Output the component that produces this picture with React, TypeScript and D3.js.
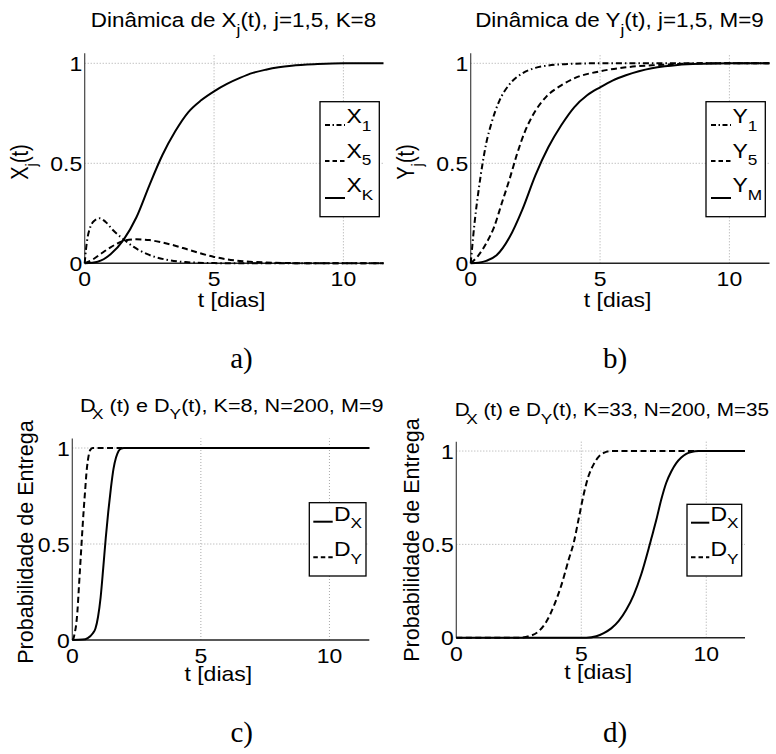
import React from 'react';
import * as d3 from 'd3';

type Pt = [number, number];

// shared axis definitions
const T_END = 11.55;
const Y_END = 1.05;
const xTickValues = [0, 5, 10];
const xTickLabels = ['0', '5', '10'];
const yTickValues = [0, 0.5, 1];
const yTickLabels = ['0', '0.5', '1'];
const gridX = [5, 10];
const gridY = [0.5, 1];

// a) X_j(t), K = 8
const xj1: Pt[] = [[0, 0], [0.05, 0.07], [0.1, 0.12], [0.2, 0.175], [0.35, 0.21], [0.59, 0.225], [0.8, 0.208], [1.1, 0.165], [1.5, 0.12], [1.88, 0.083], [2.4, 0.047], [3.15, 0.018], [3.9, 0.006], [5, 0.001], [6, 0], [11.55, 0]];
const xj5: Pt[] = [[0, 0], [0.3, 0.018], [0.6, 0.045], [1.0, 0.08], [1.5, 0.112], [2.0, 0.12], [2.5, 0.116], [3.0, 0.104], [3.5, 0.088], [4.0, 0.068], [4.5, 0.049], [5.0, 0.032], [5.5, 0.02], [6.0, 0.012], [7.0, 0.004], [8.0, 0.001], [9, 0], [11.55, 0]];
const xjK: Pt[] = [[0, 0], [0.5, 0.008], [1.0, 0.045], [1.5, 0.117], [2.0, 0.23], [2.5, 0.39], [3.0, 0.54], [3.5, 0.66], [4.0, 0.755], [4.5, 0.815], [5.0, 0.86], [5.5, 0.897], [6.0, 0.927], [6.5, 0.952], [7.0, 0.968], [7.5, 0.98], [8.0, 0.988], [9.0, 0.996], [10, 1], [11.55, 1]];

// b) Y_j(t), M = 9
const yj1: Pt[] = [[0, 0], [0.05, 0.07], [0.1, 0.14], [0.2, 0.26], [0.3, 0.36], [0.46, 0.5], [0.6, 0.6], [0.8, 0.7], [1.1, 0.81], [1.5, 0.895], [2.0, 0.95], [2.5, 0.977], [3, 0.989], [4, 0.998], [5, 1], [11.55, 1]];
const yj5: Pt[] = [[0, 0], [0.3, 0.04], [0.6, 0.1], [0.9, 0.18], [1.2, 0.3], [1.5, 0.42], [1.8, 0.55], [2.1, 0.66], [2.4, 0.74], [2.9, 0.83], [3.5, 0.89], [4.0, 0.925], [5, 0.96], [6, 0.98], [7, 0.99], [8, 0.996], [9, 1], [11.55, 1]];
const yjM: Pt[] = [[0, 0], [0.3, 0.003], [0.6, 0.012], [1.0, 0.04], [1.5, 0.13], [2.0, 0.27], [2.5, 0.44], [3.0, 0.58], [3.5, 0.69], [4.0, 0.78], [4.5, 0.84], [5.0, 0.88], [5.5, 0.915], [6.0, 0.94], [6.5, 0.96], [7, 0.975], [7.5, 0.985], [8, 0.992], [9, 0.998], [10, 1], [11.55, 1]];

// c) D_X, D_Y with K = 8, N = 200, M = 9
const dxC: Pt[] = [[0, 0], [0.4, 0.002], [0.6, 0.01], [0.8, 0.035], [0.9, 0.06], [1.0, 0.12], [1.1, 0.22], [1.2, 0.37], [1.3, 0.53], [1.4, 0.67], [1.5, 0.79], [1.6, 0.89], [1.7, 0.95], [1.8, 0.985], [1.9, 0.997], [2.0, 1], [11.55, 1]];
const dyC: Pt[] = [[0, 0], [0.05, 0.01], [0.1, 0.04], [0.15, 0.08], [0.2, 0.15], [0.25, 0.26], [0.3, 0.37], [0.35, 0.48], [0.4, 0.59], [0.45, 0.69], [0.5, 0.78], [0.55, 0.87], [0.6, 0.93], [0.65, 0.97], [0.7, 0.99], [0.8, 1], [11.55, 1]];

// d) D_X, D_Y with K = 33, N = 200, M = 35
const dxD: Pt[] = [[0, 0], [5.2, 0], [5.6, 0.008], [5.9, 0.025], [6.2, 0.05], [6.5, 0.09], [6.8, 0.15], [7.1, 0.23], [7.4, 0.34], [7.7, 0.48], [7.8, 0.53], [8.0, 0.63], [8.2, 0.74], [8.4, 0.83], [8.6, 0.89], [8.8, 0.935], [9.0, 0.965], [9.2, 0.985], [9.4, 0.995], [9.7, 1], [11.55, 1]];
const dyD: Pt[] = [[0, 0], [2.5, 0], [3.0, 0.012], [3.3, 0.035], [3.6, 0.085], [3.9, 0.17], [4.2, 0.28], [4.5, 0.42], [4.7, 0.51], [4.9, 0.64], [5.1, 0.77], [5.3, 0.87], [5.5, 0.93], [5.7, 0.97], [5.9, 0.99], [6.2, 1], [11.55, 1]];

const SOLID = '';
const DASHED = '6,3.5';
const DASHDOT = '6,3,1.5,3';

const FONT = "'Liberation Sans', Arial, Helvetica, sans-serif";
const SERIF = "'Liberation Serif', 'Times New Roman', Times, serif";
const SX = 1.15; // horizontal glyph stretch

type Seg = { t: string; sub?: boolean; dx?: number };

interface SeriesSpec { data: Pt[]; dash: string; main: string; sub: string }
interface PanelSpec {
  x0: number; x1: number; y0: number; yTop: number;
  title: Seg[]; titleX: number; titleY: number; titleSize: number;
  ylabel: Seg[]; ylabelX: number; ylabelY: number; ylabelSize: number; ylabelSx: number;
  xlabelY: number; caption: string; captionX: number; captionY: number;
  series: SeriesSpec[];
  legend: { x: number; y: number; w: number; h: number; lx0: number; lx1: number; tx: number; lines: number[]; bases: number[] };
}

const SUB_SIZE = 15;
const SUB_DY = 7.5;

function Segs({ segs, size }: { segs: Seg[]; size: number }) {
  const out: React.ReactNode[] = [];
  let shifted = false;
  segs.forEach((s, i) => {
    let dy = 0;
    if (s.sub && !shifted) { dy = SUB_DY; shifted = true; }
    else if (!s.sub && shifted) { dy = -SUB_DY; shifted = false; }
    out.push(
      <tspan key={i} dy={dy || undefined} dx={s.dx} fontSize={s.sub ? SUB_SIZE : size}>{s.t}</tspan>
    );
  });
  return <>{out}</>;
}

function SText({ x, y, anchor, size, rotate, children, sx }: {
  x: number; y: number; anchor: 'start' | 'middle' | 'end'; size: number; rotate?: boolean; children: React.ReactNode; sx?: number;
}) {
  return (
    <text
      transform={`translate(${x},${y}) scale(${sx ?? SX},1)${rotate ? ' rotate(-90)' : ''}`}
      textAnchor={anchor}
      fontSize={size}
      fontFamily={FONT}
      fill="#000"
    >
      {children}
    </text>
  );
}

const panels: PanelSpec[] = [
  {
    x0: 84.7, x1: 383.5, y0: 263.3, yTop: 53.3,
    title: [{ t: 'Dinâmica de X' }, { t: 'j', sub: true }, { t: '(t), j=1,5, K=8' }], titleX: 233.5, titleY: 27, titleSize: 19.5,
    ylabel: [{ t: 'X' }, { t: 'j', sub: true }, { t: '(t)' }], ylabelX: 28, ylabelY: 162, ylabelSize: 20, ylabelSx: 1.15,
    xlabelY: 307, caption: 'a)', captionX: 241.5, captionY: 368,
    series: [
      { data: xj1, dash: DASHDOT, main: 'X', sub: '1' },
      { data: xj5, dash: DASHED, main: 'X', sub: '5' },
      { data: xjK, dash: SOLID, main: 'X', sub: 'K' },
    ],
    legend: { x: 320, y: 101.7, w: 59.3, h: 115, lx0: 325, lx1: 345, tx: 346.5, lines: [125, 161, 198], bases: [123, 157.5, 192] },
  },
  {
    x0: 470.7, x1: 769.5, y0: 263.3, yTop: 53.3,
    title: [{ t: 'Dinâmica de Y' }, { t: 'j', sub: true }, { t: '(t), j=1,5, M=9' }], titleX: 619.5, titleY: 27, titleSize: 19.5,
    ylabel: [{ t: 'Y' }, { t: 'j', sub: true }, { t: '(t)' }], ylabelX: 414, ylabelY: 162, ylabelSize: 20, ylabelSx: 1.15,
    xlabelY: 307, caption: 'b)', captionX: 615, captionY: 368,
    series: [
      { data: yj1, dash: DASHDOT, main: 'Y', sub: '1' },
      { data: yj5, dash: DASHED, main: 'Y', sub: '5' },
      { data: yjM, dash: SOLID, main: 'Y', sub: 'M' },
    ],
    legend: { x: 706, y: 101.7, w: 59.3, h: 115, lx0: 711, lx1: 731, tx: 732.5, lines: [125, 161, 198], bases: [123, 157.5, 192] },
  },
  {
    x0: 72.3, x1: 369.3, y0: 640, yTop: 438.4,
    title: [{ t: 'D' }, { t: 'X', sub: true, dx: -3 }, { t: ' (t) e D' }, { t: 'Y', sub: true }, { t: '(t), K=8, N=200, M=9' }], titleX: 231.7, titleY: 411.7, titleSize: 18.8,
    ylabel: [{ t: 'Probabilidade de Entrega' }], ylabelX: 33, ylabelY: 542, ylabelSize: 21.6, ylabelSx: 1.05,
    xlabelY: 681, caption: 'c)', captionX: 241.7, captionY: 741.7,
    series: [
      { data: dxC, dash: SOLID, main: 'D', sub: 'X' },
      { data: dyC, dash: DASHED, main: 'D', sub: 'Y' },
    ],
    legend: { x: 309.3, y: 502.7, w: 56.7, h: 73.3, lx0: 313.3, lx1: 332.7, tx: 334, lines: [521.7, 557.3], bases: [520.7, 556] },
  },
  {
    x0: 456.3, x1: 745, y0: 637.7, yTop: 441.7,
    title: [{ t: 'D' }, { t: 'X', sub: true, dx: -3 }, { t: ' (t) e D' }, { t: 'Y', sub: true }, { t: '(t), K=33, N=200, M=35' }], titleX: 611.8, titleY: 416, titleSize: 18,
    ylabel: [{ t: 'Probabilidade de Entrega' }], ylabelX: 419.3, ylabelY: 540, ylabelSize: 21.6, ylabelSx: 1.05,
    xlabelY: 678.5, caption: 'd)', captionX: 615, captionY: 741.7,
    series: [
      { data: dxD, dash: SOLID, main: 'D', sub: 'X' },
      { data: dyD, dash: DASHED, main: 'D', sub: 'Y' },
    ],
    legend: { x: 687, y: 504.3, w: 54.7, h: 71.7, lx0: 691, lx1: 709.3, tx: 710.5, lines: [522.7, 557.3], bases: [520.7, 556] },
  },
];

function Panel({ p }: { p: PanelSpec }) {
  const x = d3.scaleLinear().domain([0, T_END]).range([p.x0, p.x1]);
  const y = d3.scaleLinear().domain([0, Y_END]).range([p.y0, p.yTop]);
  const line = d3.line<Pt>().x(d => x(d[0])).y(d => y(d[1])).curve(d3.curveMonotoneX);
  const L = p.legend;
  return (
    <g>
      {gridX.map(v => (
        <line key={'gx' + v} x1={x(v)} x2={x(v)} y1={y(0)} y2={y(Y_END)} stroke="#a8a8a8" strokeWidth={1} strokeDasharray="1,2" />
      ))}
      {gridY.map(v => (
        <line key={'gy' + v} x1={x(0)} x2={x(T_END)} y1={y(v)} y2={y(v)} stroke="#a8a8a8" strokeWidth={1} strokeDasharray="1,2" />
      ))}
      <line x1={x(0)} x2={x(0)} y1={y(0)} y2={y(Y_END)} stroke="#444" strokeWidth={1.2} />
      <line x1={x(0)} x2={x(T_END)} y1={y(0)} y2={y(0)} stroke="#222" strokeWidth={1.4} />
      {p.series.map((s, i) => (
        <path key={i} d={line(s.data) ?? ''} fill="none" stroke="#000" strokeWidth={2}
          strokeDasharray={s.dash || undefined} strokeLinejoin="round" />
      ))}
      {xTickValues.map((v, i) => (
        <SText key={'xt' + v} x={x(v)} y={y(0) + 23} anchor="middle" size={20}>{xTickLabels[i]}</SText>
      ))}
      {yTickValues.map((v, i) => (
        <SText key={'yt' + v} x={x(0) - 2.5} y={y(v) + 7.5} anchor="end" size={20}>{yTickLabels[i]}</SText>
      ))}
      <SText x={p.titleX} y={p.titleY} anchor="middle" size={p.titleSize}><Segs segs={p.title} size={p.titleSize} /></SText>
      <SText x={p.ylabelX} y={p.ylabelY} anchor="middle" size={p.ylabelSize} sx={p.ylabelSx} rotate>
        <Segs segs={p.ylabel} size={p.ylabelSize} />
      </SText>
      <SText x={(p.x0 + p.x1) / 2 - 2.5} y={p.xlabelY} anchor="middle" size={20}>t [dias]</SText>
      <text x={p.captionX} y={p.captionY} textAnchor="middle" fontSize={29} fontFamily={SERIF} fill="#000">{p.caption}</text>
      <rect x={L.x} y={L.y} width={L.w} height={L.h} fill="#fff" stroke="#000" strokeWidth={1.3} />
      {p.series.map((s, i) => (
        <g key={'lg' + i}>
          <line x1={L.lx0} x2={L.lx1} y1={L.lines[i]} y2={L.lines[i]} stroke="#000" strokeWidth={2}
            strokeDasharray={s.dash ? (s.dash === DASHED ? '4.5,3' : '5,2.5,1.5,2.5') : undefined} />
          <SText x={L.tx} y={L.bases[i]} anchor="start" size={20}>
            <Segs segs={[{ t: s.main }, { t: s.sub, sub: true }]} size={20} />
          </SText>
        </g>
      ))}
    </g>
  );
}

export default function App() {
  return (
    <svg width={776} height={754} style={{ position: 'absolute', left: 0, top: 0, background: '#fff' }}>
      <rect width={776} height={754} fill="#fff" />
      {panels.map((p, i) => <Panel key={i} p={p} />)}
    </svg>
  );
}
